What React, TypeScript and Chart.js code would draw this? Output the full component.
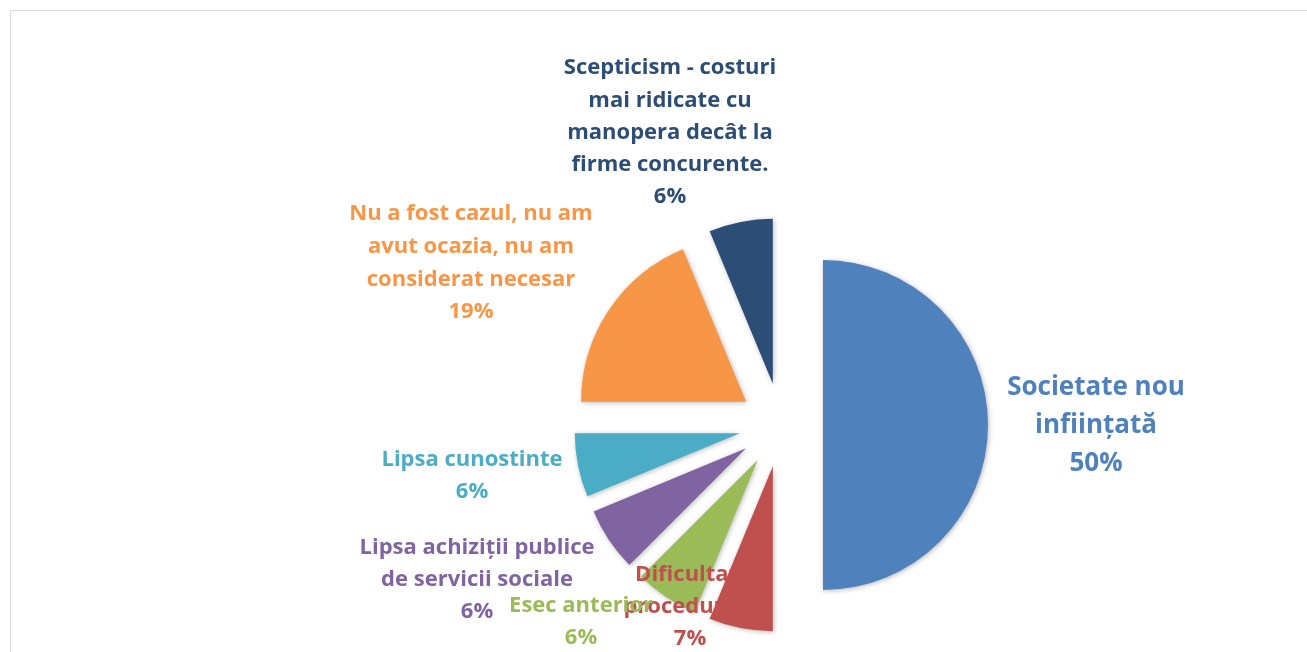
import React, { useEffect, useRef } from "react";
import { Chart, registerables } from "chart.js";

Chart.register(...registerables);

// ---- data ----
const categories = [
  "Societate nou inființată",
  "Dificultati procedurale",
  "Esec anterior",
  "Lipsa achiziții publice de servicii sociale",
  "Lipsa cunostinte",
  "Nu a fost cazul, nu am avut ocazia, nu am considerat necesar",
  "Scepticism - costuri mai ridicate cu manopera decât la firme concurente.",
];
// slice shares (percent)
const values = [50, 6.25, 6.25, 6.25, 6.25, 18.75, 6.25];
// percentages as printed on the chart's labels
const percentLabels = ["50%", "7%", "6%", "6%", "6%", "19%", "6%"];
const labelLines = [
  ["Societate nou", "inființată"],
  ["Dificultati", "procedurale"],
  ["Esec anterior"],
  ["Lipsa achiziții publice", "de servicii sociale"],
  ["Lipsa cunostinte"],
  ["Nu a fost cazul, nu am", "avut ocazia, nu am", "considerat necesar"],
  ["Scepticism - costuri", "mai ridicate cu", "manopera decât la", "firme concurente."],
];

// ---- style / layout ----
const colors = ["#4F81BD", "#C0504D", "#9BBB59", "#8064A2", "#4BACC6", "#F79646", "#2C4D75"];
const EXPLODE = 42;
const FONT = "'Open Sans', 'DejaVu Sans', sans-serif";
const labelLayout = [
  { x: 1096, y: 388, lh: 38, size: 26 },
  { x: 690, y: 575, lh: 32, size: 22 },
  { x: 581, y: 606, lh: 32, size: 22 },
  { x: 477, y: 548, lh: 32, size: 22 },
  { x: 472, y: 460, lh: 32, size: 22 },
  { x: 471, y: 214, lh: 32.7, size: 22 },
  { x: 670, y: 68, lh: 32.3, size: 22 },
];

const explodePlugin = {
  id: "explodeSlices",
  beforeDatasetDraw(chart: any, args: any) {
    const ctx = chart.ctx;
    const meta = args.meta;
    meta.data.forEach((arc: any) => {
      const mid = (arc.startAngle + arc.endAngle) / 2;
      ctx.save();
      ctx.translate(Math.cos(mid) * EXPLODE, Math.sin(mid) * EXPLODE);
      ctx.shadowColor = "rgba(0,0,0,0.28)";
      ctx.shadowBlur = 5;
      ctx.shadowOffsetX = 1;
      ctx.shadowOffsetY = 1;
      arc.draw(ctx);
      ctx.restore();
    });
    return false;
  },
};

const labelPlugin = {
  id: "sliceLabels",
  afterDatasetsDraw(chart: any) {
    const ctx = chart.ctx;
    const ds = chart.data.datasets[0];
    ds.data.forEach((_v: number, i: number) => {
      const lay = labelLayout[i];
      const lines = [...labelLines[i], percentLabels[i]];
      ctx.save();
      ctx.fillStyle = colors[i];
      ctx.font = `bold ${lay.size}px ${FONT}`;
      ctx.textAlign = "center";
      ctx.textBaseline = "middle";
      lines.forEach((t, k) => ctx.fillText(t, lay.x, lay.y + k * lay.lh));
      ctx.restore();
    });
  },
};

export default function App() {
  const ref = useRef<HTMLCanvasElement | null>(null);
  useEffect(() => {
    if (!ref.current) return;
    const chart = new Chart(ref.current, {
      type: "pie",
      data: {
        labels: categories,
        datasets: [
          {
            data: values,
            backgroundColor: colors,
            borderWidth: 0,
          },
        ],
      },
      options: {
        responsive: false,
        animation: false,
        devicePixelRatio: 1,
        layout: { padding: { left: 481, top: 260, right: 226, bottom: 62 } },
        plugins: {
          legend: { display: false },
          tooltip: { enabled: false },
        },
      },
      plugins: [explodePlugin, labelPlugin],
    });
    return () => chart.destroy();
  }, []);

  return (
    <div style={{ position: "fixed", left: 0, top: 0, width: 1307, height: 652, overflow: "hidden", background: "#fff" }}>
      <div
        style={{
          position: "absolute",
          left: 10,
          top: 10,
          width: 1400,
          height: 700,
          border: "1px solid #D9D9D9",
          boxSizing: "border-box",
        }}
      />
      <canvas ref={ref} width={1307} height={652} style={{ position: "absolute", left: 0, top: 0, width: 1307, height: 652 }} />
    </div>
  );
}
